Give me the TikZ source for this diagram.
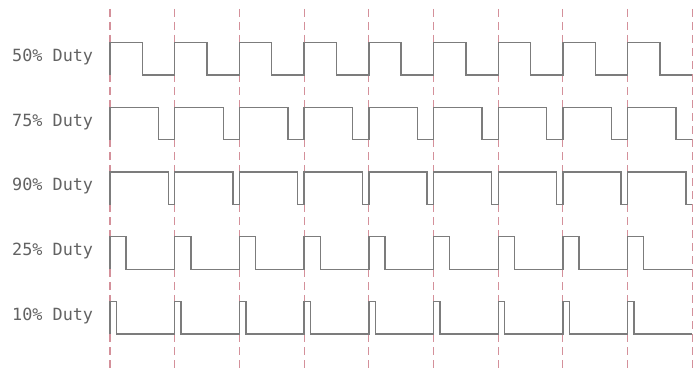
\documentclass[tikz,border=0pt]{standalone}
\usepackage{fontspec}
\newfontfamily\lblfont{DejaVu Sans Mono}
\definecolor{wavegray}{HTML}{7C7C7C}
\definecolor{gridred}{HTML}{D4909A}
\definecolor{textgray}{HTML}{626262}
\begin{document}
\begin{tikzpicture}[x=1pt,y=-1pt,
  wave/.style={draw=wavegray,line width=1.4pt,line join=miter},
  grid/.style={draw=gridred,line width=1.1pt,dash pattern=on 8pt off 5pt},
  lbl/.style={font=\lblfont\fontsize{16.8}{18}\selectfont,text=textgray,anchor=west,inner sep=0pt}]
\useasboundingbox (0,0) rectangle (693,369);
\fill[white] (0,0) rectangle (693,369);
% dashed period markers
\foreach \i in {0,...,9}{
  \coordinate (gt\i) at ({110+\i*64.7},9);
  \coordinate (gb\i) at ({110+\i*64.7},369);
  \draw[grid] (gt\i) -- (gb\i);
}
% waveforms
\foreach \r/\d/\t in {0/0.5/50,1/0.75/75,2/0.9/90,3/0.25/25,4/0.1/10}{
  \pgfmathsetmacro{\hi}{42.5+\r*64.75}
  \pgfmathsetmacro{\lo}{\hi+32.5}
  \node[lbl] (label\t) at (12,{\hi+14.5}) {\t\% Duty};
  \coordinate (start\t) at (110,\lo);
  \draw[wave] (start\t)
    \foreach \k in {0,...,8}{
      -- ({110+\k*64.7},\hi) -- ({110+\k*64.7+\d*64.7},\hi)
      -- ({110+\k*64.7+\d*64.7},\lo) -- ({110+(\k+1)*64.7},\lo)
    };
}
\end{tikzpicture}
\end{document}
